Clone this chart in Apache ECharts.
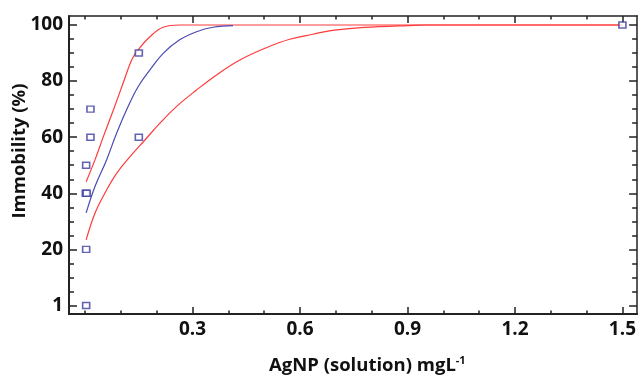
<!DOCTYPE html>
<html><head><meta charset="utf-8">
<script src="https://cdn.jsdelivr.net/npm/echarts@6/dist/echarts.min.js"></script>
<style>html,body{margin:0;padding:0;background:#fff}#c{width:639px;height:376px}</style>
</head><body><div id="c"></div>
<script>
// Observed data points (concentration mg/L, immobility %)
const pointX = [0.003, 0.003, 0.002, 0.0045, 0.003, 0.015, 0.015, 0.15, 0.15, 1.5];
const pointY = [0, 20, 40, 40, 50, 60, 70, 60, 90, 100];

// Fitted curve (blue)
const fitX = [0.003, 0.0276, 0.06, 0.088, 0.12, 0.148, 0.181, 0.218, 0.264, 0.311, 0.357, 0.413];
const fitY = [33, 42.4, 51.9, 61.4, 70.9, 78, 84, 89.9, 94.7, 97.6, 99.2, 99.8];

// Upper confidence band (red)
const upperX = [0.003, 0.0276, 0.051, 0.079, 0.106, 0.13, 0.148, 0.181, 0.218, 0.265, 0.4, 1.5];
const upperY = [44.1, 51.9, 60.2, 69.7, 79.2, 87.5, 91.1, 95.8, 99.2, 100, 100, 100];

// Lower confidence band (red)
const lowerX = [0.003, 0.0276, 0.055, 0.088, 0.125, 0.167, 0.209, 0.255, 0.311, 0.367, 0.432, 0.506, 0.571, 0.636, 0.686, 0.746, 0.82, 0.9, 0.95, 1.5];
const lowerY = [23.4, 32.9, 40, 47.1, 53, 59, 65, 70.9, 76.8, 82.2, 87.5, 91.9, 94.9, 96.7, 98, 98.8, 99.4, 99.8, 100, 100];

// Tick values
const xMajorTicks = [0.3, 0.6, 0.9, 1.2, 1.5];
const xMinorTicks = [0, 0.1, 0.2, 0.4, 0.5, 0.7, 0.8, 1.0, 1.1, 1.3, 1.4];
const yMajorTicks = [0, 20, 40, 60, 80, 100];
const yMinorTicks = [5, 10, 15, 25, 30, 35, 45, 50, 55, 65, 70, 75, 85, 90, 95];
const yLabelText = {0: '1', 20: '20', 40: '40', 60: '60', 80: '80', 100: '100'};

const zip = (a, b) => a.map((v, i) => [v, b[i]]);
const FONT = '"Open Sans"';
const AX = '#222';
const XMIN = -0.0449, XMAX = 1.541, YMIN = -3.03, YMAX = 103.2;

function xAxisDef(pos, ticks, len, showLine, labels) {
  return {
    type: 'value', position: pos, min: XMIN, max: XMAX,
    axisLine: {show: showLine, onZero: false, lineStyle: {color: AX, width: pos === 'bottom' ? 2 : 1.5}},
    axisTick: {show: true, inside: true, length: len, customValues: ticks, lineStyle: {color: AX, width: 1.5}},
    axisLabel: labels ? {show: true, customValues: xMajorTicks, margin: 6,
      formatter: v => v.toFixed(1), fontFamily: FONT, fontWeight: 'bold', fontSize: 19, color: '#111'} : {show: false},
    splitLine: {show: false}
  };
}
function yAxisDef(pos, ticks, len, showLine, labels) {
  return {
    type: 'value', position: pos, min: YMIN, max: YMAX,
    axisLine: {show: showLine, onZero: false, lineStyle: {color: AX, width: pos === 'left' ? 2 : 1.5}},
    axisTick: {show: true, inside: true, length: len, customValues: ticks, lineStyle: {color: AX, width: 1.5}},
    axisLabel: labels ? {show: true, customValues: yMajorTicks, margin: 6,
      formatter: v => yLabelText[Math.round(v)], fontFamily: FONT, fontWeight: 'bold', fontSize: 19, color: '#111'} : {show: false},
    splitLine: {show: false}
  };
}

const chart = echarts.init(document.getElementById('c'));
chart.setOption({
  animation: false,
  backgroundColor: '#fff',
  grid: {left: 69, right: 1, top: 16, bottom: 62},
  xAxis: [
    xAxisDef('bottom', xMajorTicks, 7, true, true),
    xAxisDef('bottom', xMinorTicks, 3.5, false, false),
    xAxisDef('top', xMajorTicks, 7, true, false),
    xAxisDef('top', xMinorTicks, 3.5, false, false)
  ],
  yAxis: [
    yAxisDef('left', yMajorTicks, 8, true, true),
    yAxisDef('left', yMinorTicks, 5, false, false),
    yAxisDef('right', yMajorTicks, 8, true, false),
    yAxisDef('right', yMinorTicks, 5, false, false)
  ],
  graphic: [
    {type: 'text', x: 20, y: 151, rotation: Math.PI / 2,
     style: {text: 'Immobility (%)', font: 'bold 18.5px "Open Sans"', fill: '#111', align: 'center', verticalAlign: 'middle'}},
    {type: 'text', x: 269, y: 366,
     style: {text: '{a|AgNP (solution) mgL}{s|-1}', fill: '#111', align: 'left', verticalAlign: 'middle',
       rich: {a: {fontFamily: 'Open Sans', fontWeight: 'bold', fontSize: 18.5, fill: '#111'},
              s: {fontFamily: 'Open Sans', fontWeight: 'bold', fontSize: 11, fill: '#111', padding: [0, 0, 10, 0]}}}}
  ],
  series: [
    {type: 'line', data: zip(lowerX, lowerY), showSymbol: false, smooth: 0.4,
     lineStyle: {color: '#ff3a3a', width: 1.2}, z: 2},
    {type: 'line', data: zip(upperX, upperY), showSymbol: false, smooth: 0.4,
     lineStyle: {color: '#ff3a3a', width: 1.2}, z: 2},
    {type: 'line', data: zip(fitX, fitY), showSymbol: false, smooth: 0.4,
     lineStyle: {color: '#4a4ab4', width: 1.2}, z: 3},
    {type: 'scatter', data: zip(pointX, pointY), symbol: 'rect', symbolSize: [7, 6],
     itemStyle: {color: '#fff', borderColor: '#3c3ca0', borderWidth: 1.5}, z: 5}
  ]
});
</script></body></html>
